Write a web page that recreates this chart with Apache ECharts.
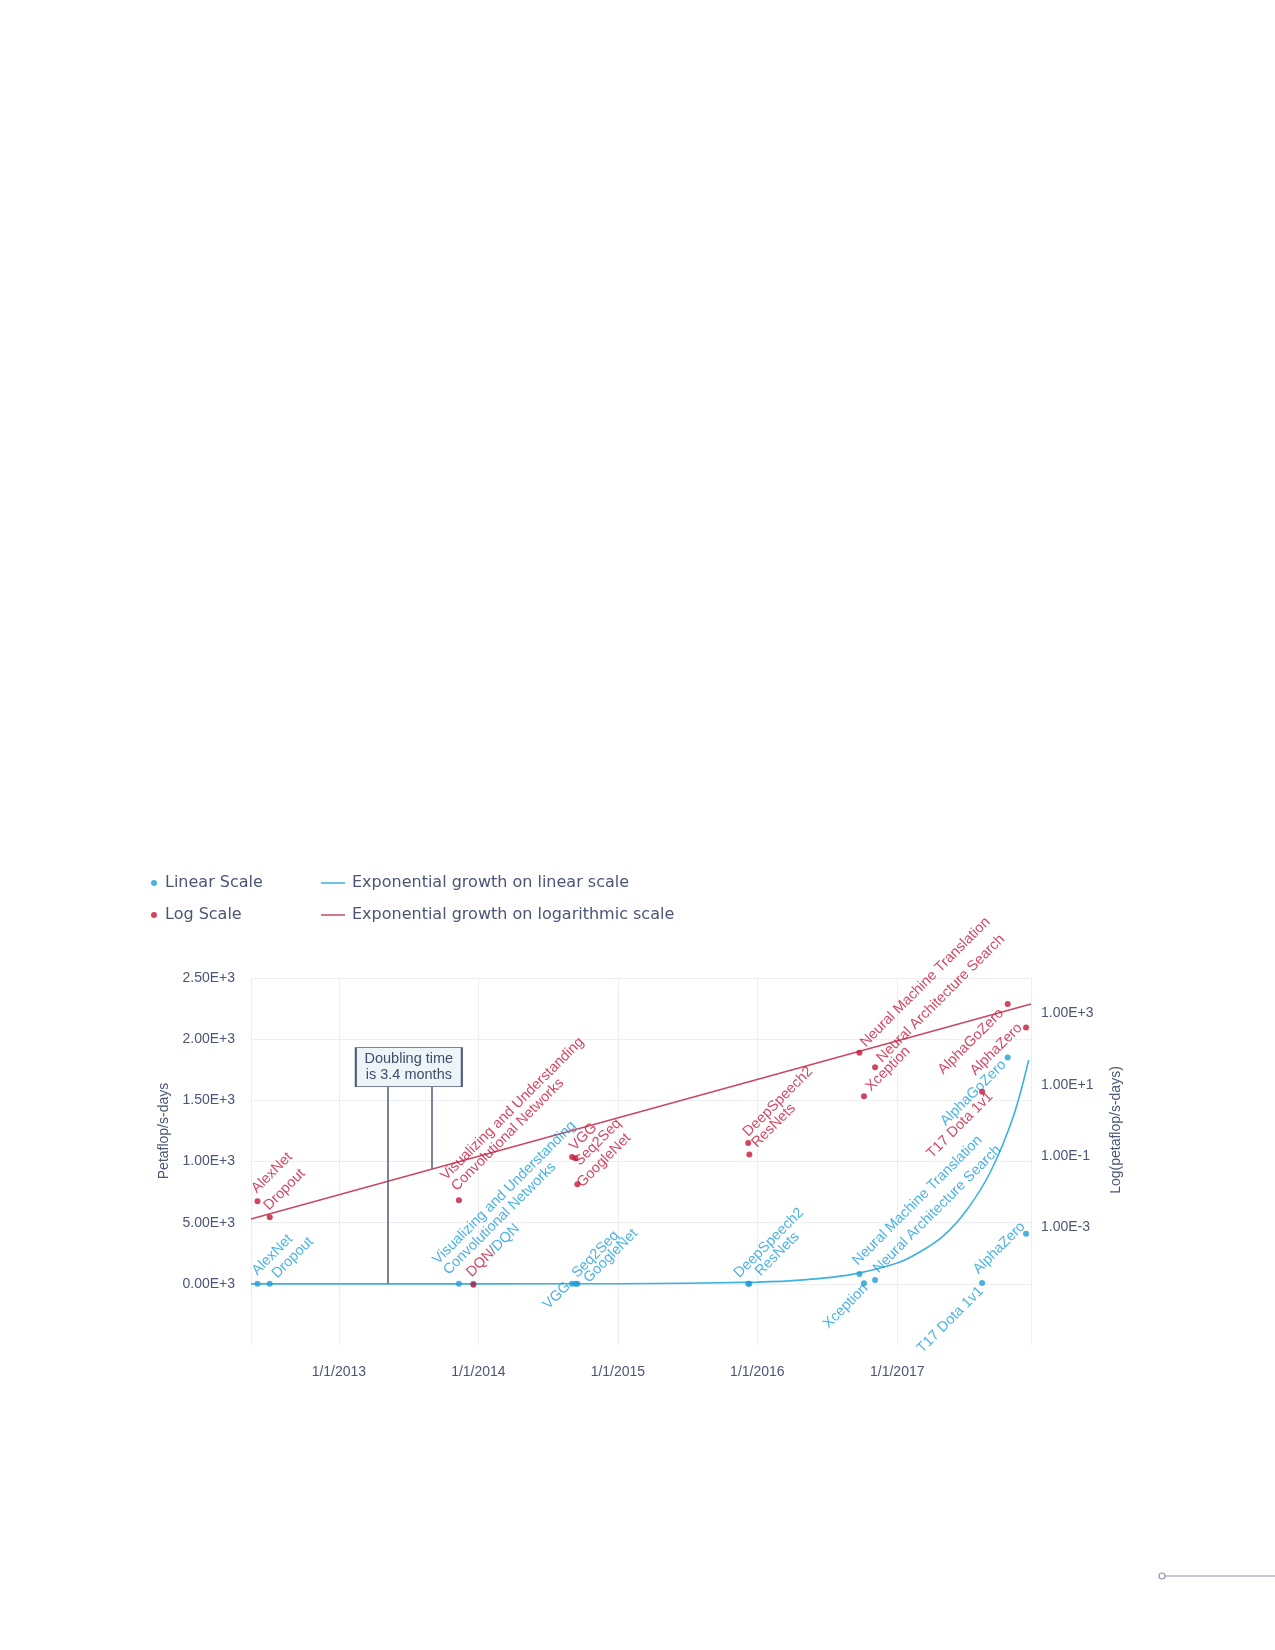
<!DOCTYPE html>
<html>
<head>
<meta charset="utf-8">
<script src="https://cdn.jsdelivr.net/npm/echarts@6/dist/echarts.min.js"></script>
<style>
html, body { margin: 0; padding: 0; background: #fff; }
#chart { width: 1275px; height: 1650px; }
</style>
</head>
<body>
<div id="chart"></div>
<script>
// 数据
const models = ['AlexNet', 'Dropout', 'Visualizing and Understanding\nConvolutional Networks', 'DQN', 'VGG', 'Seq2Seq',
    'GoogleNet', 'DeepSpeech2', 'ResNets', 'Neural Machine Translation', 'Xception', 'Neural Architecture Search',
    'T17 Dota 1v1', 'AlphaGoZero', 'AlphaZero'];
const modelDates = ['2012-06-02', '2012-07-04', '2013-11-11', '2013-12-19', '2014-09-03', '2014-09-12',
    '2014-09-17', '2015-12-08', '2015-12-11', '2016-09-24', '2016-10-06', '2016-11-04',
    '2017-08-11', '2017-10-17', '2017-12-04'];
const petaflopDays = [0.0054, 0.0019, 0.0057, 0.000024, 0.094, 0.086,
    0.016, 0.23, 0.11, 80, 4.8, 31,
    6.4, 1850, 410];

// 趋势线
const linearTrendDates = ['2012-05-16', '2014-01-01', '2015-01-01', '2016-01-01', '2016-05-01', '2016-09-01',
    '2017-01-01', '2017-03-01', '2017-05-01', '2017-07-01', '2017-09-01', '2017-11-01', '2017-12-11'];
const linearTrendValues = [0, 0, 1, 14, 32, 75, 170, 260, 390, 600, 910, 1370, 1830];
const logTrendDates = ['2012-05-16', '2017-12-17'];
const logTrendValues = [0.0017, 1860];

// 刻度
const leftTickValues = [0, 500, 1000, 1500, 2000, 2500];
const leftTickLabels = ['0.00E+3', '5.00E+3', '1.00E+3', '1.50E+3', '2.00E+3', '2.50E+3'];
const rightTickExponents = [3, 1, -1, -3];
const rightTickLabels = ['1.00E+3', '1.00E+1', '1.00E-1', '1.00E-3'];

// 注释 (Doubling time)
const noteDate = '2013-07-03';
const noteValue = 1771;
const doublingLineDates = ['2013-05-09', '2013-09-01'];
const doublingLineFrom = [0, 941];
const doublingLineTo = [1612, 1612];

// 标签摆放: [方向, 垂直偏移, 沿文字偏移]
const bluePlace = [['R', 7.8, 1.6], ['R', 0, 4.9], ['R', 15, -5.2], null, ['L', 2.9, -1.9], ['R', 4.5, 1.2],
    ['R', -6, 4.7], ['R', 12, -6.4], ['R', -1, 9], ['R', 8.8, 0.7], ['L', -2.8, 0], ['R', 4, 3],
    ['L', -3, -4], ['L', -0.4, -5.2], ['L', 9.2, 5.4]];
const redPlace = [['R', 7.6, 0.9], ['R', 6.9, 0.2], ['R', 9.6, 0.7], ['R', 8.3, 0], ['R', 4, 2], ['R', -6.7, -6.6],
    ['R', -4, -3], ['R', 6, 0.4], ['R', 1, 5.9], ['R', 1, 4], ['R', 0, 4], ['R', 0, 4],
    ['L', -7.5, 5.2], ['L', 0, -8.3], ['L', 6, -2.1]];

const BLUE = '#1b9fdb';
const BLUE_LINE = '#3db2dc';
const RED = '#c6163a';
const RED_LINE = '#c94862';
const TEXT = '#4b5576';
const GRID = '#eceef3';
const FONT = 'Liberation Sans';

const t = s => Date.parse(s + 'T00:00:00Z');
const xMin = t('2012-05-16');
const xMax = t('2017-12-17');

function labelFor(place, color) {
    if (!place) return { show: false };
    let [side, p, a] = place;
    const s = Math.SQRT1_2;
    if (side === 'R') { p -= 3; a += 4; } else { p += 5; a -= 1; }
    const pa = side === 'R' ? p - 2.3 : p + 2;
    return {
        show: true,
        position: [3 + s * (a - pa), 3 - s * (a + pa)],
        rotate: 45,
        align: side === 'R' ? 'left' : 'right',
        verticalAlign: side === 'R' ? 'bottom' : 'top',
        color: color,
        fontSize: 14.5,
        lineHeight: 15,
        fontFamily: FONT
    };
}

const blueData = models.map((m, i) => ({
    name: m,
    value: [t(modelDates[i]), petaflopDays[i]],
    label: labelFor(bluePlace[i], BLUE)
}));
const redData = models.map((m, i) => {
    const item = {
        name: m,
        value: [t(modelDates[i]), Math.log10(petaflopDays[i])],
        label: labelFor(redPlace[i], RED)
    };
    if (m === 'DQN') {
        item.label.formatter = '{r|DQN}{k|/}{b|DQN}';
        item.label.rich = {
            r: { color: RED, fontSize: 14.5, fontFamily: FONT },
            k: { color: TEXT, fontSize: 14.5, fontFamily: FONT },
            b: { color: BLUE, fontSize: 14.5, fontFamily: FONT }
        };
    }
    return item;
});

const myChart = echarts.init(document.getElementById('chart'));
const option = {
    animation: false,
    useUTC: true,
    textStyle: { fontFamily: FONT },
    legend: [
        {
            data: ['Linear Scale', 'Log Scale'],
            orient: 'vertical',
            left: 146, top: 869,
            icon: 'circle',
            itemWidth: 6, itemHeight: 6,
            itemGap: 14,
            selectedMode: false,
            textStyle: { color: TEXT, fontSize: 16, lineHeight: 18, fontFamily: 'DejaVu Sans', padding: [0, 0, 0, 3] }
        },
        {
            data: ['Exponential growth on linear scale', 'Exponential growth on logarithmic scale'],
            orient: 'vertical',
            left: 316, top: 869,
            icon: 'rect',
            itemWidth: 24, itemHeight: 1.5,
            itemGap: 14,
            selectedMode: false,
            textStyle: { color: TEXT, fontSize: 16, lineHeight: 18, fontFamily: 'DejaVu Sans', padding: [0, 0, 0, 2] }
        }
    ],
    grid: [
        { left: 251, right: 244, top: 978, height: 367 },
        { left: 251, right: 244, top: 978, height: 356 }
    ],
    xAxis: [
        {
            type: 'time', gridIndex: 0, min: xMin, max: xMax, splitNumber: 6,
            axisLine: { show: false }, axisTick: { show: false },
            splitLine: { show: true, lineStyle: { color: GRID, width: 1 } },
            axisLabel: {
                color: TEXT, fontSize: 14, margin: 20, fontFamily: FONT,
                formatter: v => {
                    const d = new Date(v);
                    if (d.getUTCMonth() === 0 && d.getUTCDate() === 1) {
                        return '1/1/' + d.getUTCFullYear();
                    }
                    return '';
                }
            }
        },
        {
            type: 'time', gridIndex: 1, min: xMin, max: xMax, show: false
        }
    ],
    yAxis: [
        {
            type: 'value', gridIndex: 0, min: -500, max: 2500, interval: 500,
            axisLine: { show: false }, axisTick: { show: false },
            splitLine: { show: true, lineStyle: { color: ['rgba(0,0,0,0)', GRID, GRID, GRID, GRID, GRID, GRID] } },
            axisLabel: {
                color: TEXT, fontSize: 14, margin: 16, fontFamily: FONT,
                formatter: v => {
                    const i = leftTickValues.indexOf(v);
                    return i >= 0 ? leftTickLabels[i] : '';
                }
            },
            name: 'Petaflop/s-days', nameLocation: 'middle', nameGap: 79, nameRotate: 90,
            nameTextStyle: { color: TEXT, fontSize: 14, fontFamily: FONT, padding: [0, 0, 0, 61] }
        },
        {
            type: 'value', gridIndex: 1, position: 'right', min: -6, max: 4, interval: 1,
            axisLine: { show: false }, axisTick: { show: false }, splitLine: { show: false },
            axisLabel: {
                color: TEXT, fontSize: 14, margin: 10, fontFamily: FONT,
                formatter: v => {
                    const i = rightTickExponents.indexOf(v);
                    return i >= 0 ? rightTickLabels[i] : '';
                }
            },
            name: 'Log(petaflop/s-days)', nameLocation: 'middle', nameGap: 78, nameRotate: 90,
            nameTextStyle: { color: TEXT, fontSize: 14, fontFamily: FONT, padding: [0, 0, 0, 52] }
        }
    ],
    series: [
        {
            name: 'Exponential growth on linear scale',
            type: 'line', xAxisIndex: 0, yAxisIndex: 0,
            smooth: 0.3, symbol: 'none',
            color: BLUE_LINE,
            lineStyle: { color: BLUE_LINE, width: 1.6 },
            data: linearTrendDates.map((d, i) => [t(d), linearTrendValues[i]]),
            z: 2,
            markLine: {
                silent: true, symbol: ['none', 'none'],
                label: { show: false },
                lineStyle: { color: '#4e5c7d', width: 1.5, type: 'solid' },
                data: doublingLineDates.map((d, i) => [
                    { coord: [t(d), doublingLineFrom[i]] },
                    { coord: [t(d), doublingLineTo[i]] }
                ])
            },
            markPoint: {
                silent: true,
                data: [{
                    coord: [t(noteDate), noteValue],
                    symbol: 'rect', symbolSize: [106, 39],
                    itemStyle: { color: '#eef5f9', borderColor: '#4e5c7d', borderWidth: 1.3 },
                    label: {
                        show: true, position: 'inside', formatter: 'Doubling time\nis 3.4 months',
                        color: '#3f4b6c', fontSize: 14.5, lineHeight: 16, fontFamily: FONT
                    }
                }]
            }
        },
        {
            name: 'Exponential growth on logarithmic scale',
            type: 'line', xAxisIndex: 1, yAxisIndex: 1,
            symbol: 'none',
            color: RED_LINE,
            lineStyle: { color: RED_LINE, width: 1.6 },
            data: logTrendDates.map((d, i) => [t(d), Math.log10(logTrendValues[i])]),
            z: 2
        },
        {
            name: 'Linear Scale',
            type: 'scatter', xAxisIndex: 0, yAxisIndex: 0,
            symbolSize: 6, color: BLUE,
            label: { formatter: '{b}' },
            data: blueData,
            z: 3
        },
        {
            name: 'Log Scale',
            type: 'scatter', xAxisIndex: 1, yAxisIndex: 1,
            symbolSize: 6, color: RED,
            label: { formatter: '{b}' },
            data: redData,
            z: 4
        }
    ],
    graphic: [
        { type: 'line', shape: { x1: 1165, y1: 1576, x2: 1275, y2: 1576 }, style: { stroke: '#8d97ad', lineWidth: 1.2 } },
        { type: 'circle', shape: { cx: 1162, cy: 1576, r: 3 }, style: { fill: '#fff', stroke: '#8d97ad', lineWidth: 1.2 } }
    ]
};
myChart.setOption(option);
</script>
</body>
</html>
